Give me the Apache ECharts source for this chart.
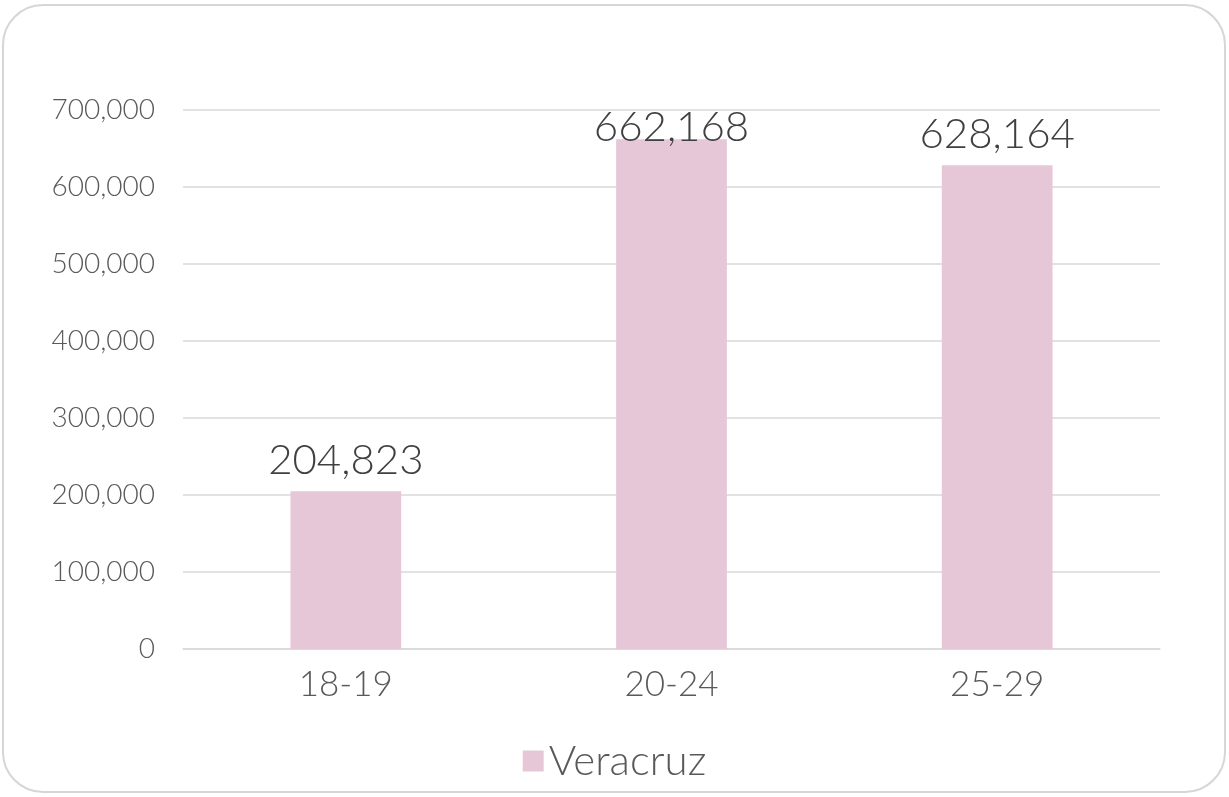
<!DOCTYPE html>
<html>
<head>
<meta charset="utf-8">
<script src="https://cdn.jsdelivr.net/npm/echarts@6/dist/echarts.min.js"></script>
<style>
  html, body { margin: 0; padding: 0; background: #fff; }
  #chart { width: 1229px; height: 797px; }
</style>
</head>
<body>
<div id="chart"></div>
<script>
var categories = ['18-19', '20-24', '25-29'];
var veracruz = [204823, 662168, 628164];
var yTicks = [0, 100000, 200000, 300000, 400000, 500000, 600000, 700000];

var fontFam = '"Lato", "Noto Sans", sans-serif';
var barColor = '#e6c7d8';

function fmt(v) {
    return String(v).replace(/\B(?=(\d{3})+(?!\d))/g, ',');
}

var chart = echarts.init(document.getElementById('chart'));
chart.setOption({
    animation: false,
    backgroundColor: '#fff',
    graphic: [{
        type: 'rect',
        shape: { x: 3, y: 5, width: 1222, height: 787, r: 40 },
        style: { fill: 'none', stroke: '#d6d6d6', lineWidth: 2 },
        z: -1
    }],
    grid: { left: 183, right: 69, top: 110, bottom: 148 },
    legend: {
        data: ['Veracruz'],
        bottom: 10,
        left: 'center',
        icon: 'rect',
        itemWidth: 21,
        itemHeight: 21,
        itemGap: 10,
        textStyle: { fontFamily: fontFam, fontWeight: 300, fontSize: 42, color: '#595959' }
    },
    xAxis: {
        type: 'category',
        data: categories,
        axisLine: { lineStyle: { color: '#d9d9d9', width: 1.5 } },
        axisTick: { show: false },
        axisLabel: { fontFamily: fontFam, fontWeight: 300, fontSize: 35, color: '#595959', margin: 18 }
    },
    yAxis: {
        type: 'value',
        min: yTicks[0],
        max: yTicks[yTicks.length - 1],
        interval: yTicks[1] - yTicks[0],
        axisLine: { show: false },
        axisTick: { show: false },
        splitLine: { lineStyle: { color: '#d9d9d9', width: 1.5 } },
        axisLabel: {
            fontFamily: fontFam, fontWeight: 300, fontSize: 28, color: '#595959', margin: 28,
            formatter: function (v) { return fmt(v); }
        }
    },
    series: [{
        name: 'Veracruz',
        type: 'bar',
        barWidth: '34%',
        itemStyle: { color: barColor },
        label: {
            show: true,
            position: 'top',
            distance: 10,
            fontFamily: fontFam,
            fontWeight: 300,
            fontSize: 42,
            color: '#404040',
            formatter: function (p) { return fmt(p.value); }
        },
        data: veracruz.map(function (v, i) {
            // Excel pushed the tallest label down to stay inside the plot
            if (i === 1) return { value: v, label: { offset: [0, 19] } };
            return v;
        })
    }]
});
</script>
</body>
</html>
